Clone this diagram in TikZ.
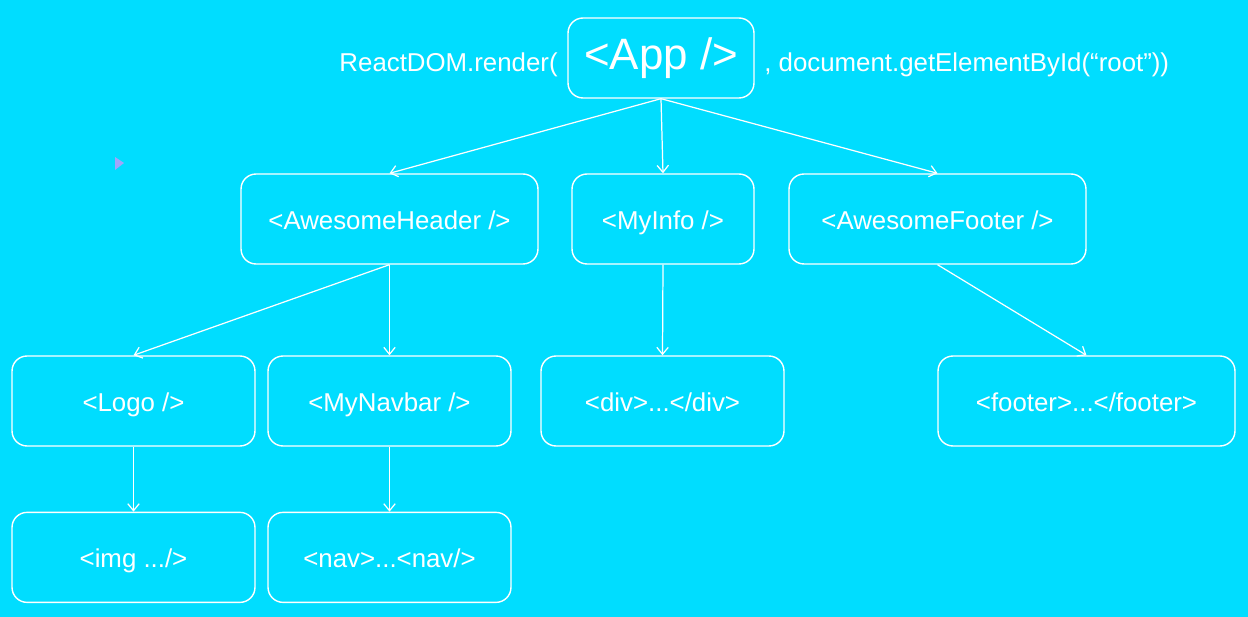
\documentclass[tikz,border=0pt]{standalone}
\usepackage{fontspec}
\setmainfont{Liberation Sans}
\usepackage{xcolor}
\usepackage{tikz}
\usetikzlibrary{positioning}
\usetikzlibrary{arrows.meta}

\definecolor{reactbg}{RGB}{0,221,255}
\definecolor{cursorpurple}{RGB}{160,165,250}

\begin{document}
\begin{tikzpicture}[
        x=0.02cm, y=-0.02cm,
        >={Straight Barb[length=4pt, width=6.5pt]},
        box/.style={rectangle, rounded corners=0.3cm, draw=white, line width=0.8pt, text=white, minimum height=1.8cm, align=center, text height=0.42cm, text depth=0pt, font=\fontsize{14.7}{17}\selectfont},
        widebox/.style={box, minimum width=5.94cm},
        midbox/.style={box, minimum width=4.86cm},
        plain/.style={text=white, inner sep=0pt, text height=0.36cm, text depth=0pt, font=\fontsize{14.7}{17}\selectfont},
        link/.style={draw=white, line width=0.7pt, ->}
    ]

    \fill[reactbg] (0,0) rectangle (1248,617);
    \useasboundingbox (0,0) rectangle (1248,617);
    \fill[cursorpurple] (115,157) -- (124,163) -- (115,170) -- cycle;

    \node[box, minimum width=3.72cm, minimum height=1.6cm, text height=0.64cm, text depth=0.16cm, font=\fontsize{25}{30}\selectfont] (app) at (661,58) {<App />};
    \node[plain, anchor=east] (render) at (558,62.5) {ReactDOM.render(};
    \node[plain, anchor=west] (getroot) at (764,62.5) {, document.getElementById(“root”))};

    \node[widebox] (header) at (389.5,219) {<AwesomeHeader />};
    \node[box, minimum width=3.64cm] (info) at (663,219) {<MyInfo />};
    \node[widebox] (footer) at (937.5,219) {<AwesomeFooter />};

    \node[midbox] (logo) at (133.5,401) {<Logo />};
    \node[midbox] (navbar) at (389.5,401) {<MyNavbar />};
    \node[midbox] (div) at (662.5,401) {<div>...</div>};
    \node[widebox] (footel) at (1086.5,401) {<footer>...</footer>};

    \node[midbox] (img) [below=1.3cm of logo] {<img .../>};
    \node[midbox] (nav) [below=1.3cm of navbar] {<nav>...<nav/>};

    \draw[link] (app.south) to (header.north);
    \draw[link] (app.south) to (info.north);
    \draw[link] (app.south) to (footer.north);

    \draw[link] (header.south) to (logo.north);
    \draw[link] (header.south) to (navbar.north);
    \draw[link] (info.south) to (div.north);
    \draw[link] (footer.south) to (footel.north);

    \draw[link] (logo.south) to (img.north);
    \draw[link] (navbar.south) to (nav.north);
\end{tikzpicture}
\end{document}
